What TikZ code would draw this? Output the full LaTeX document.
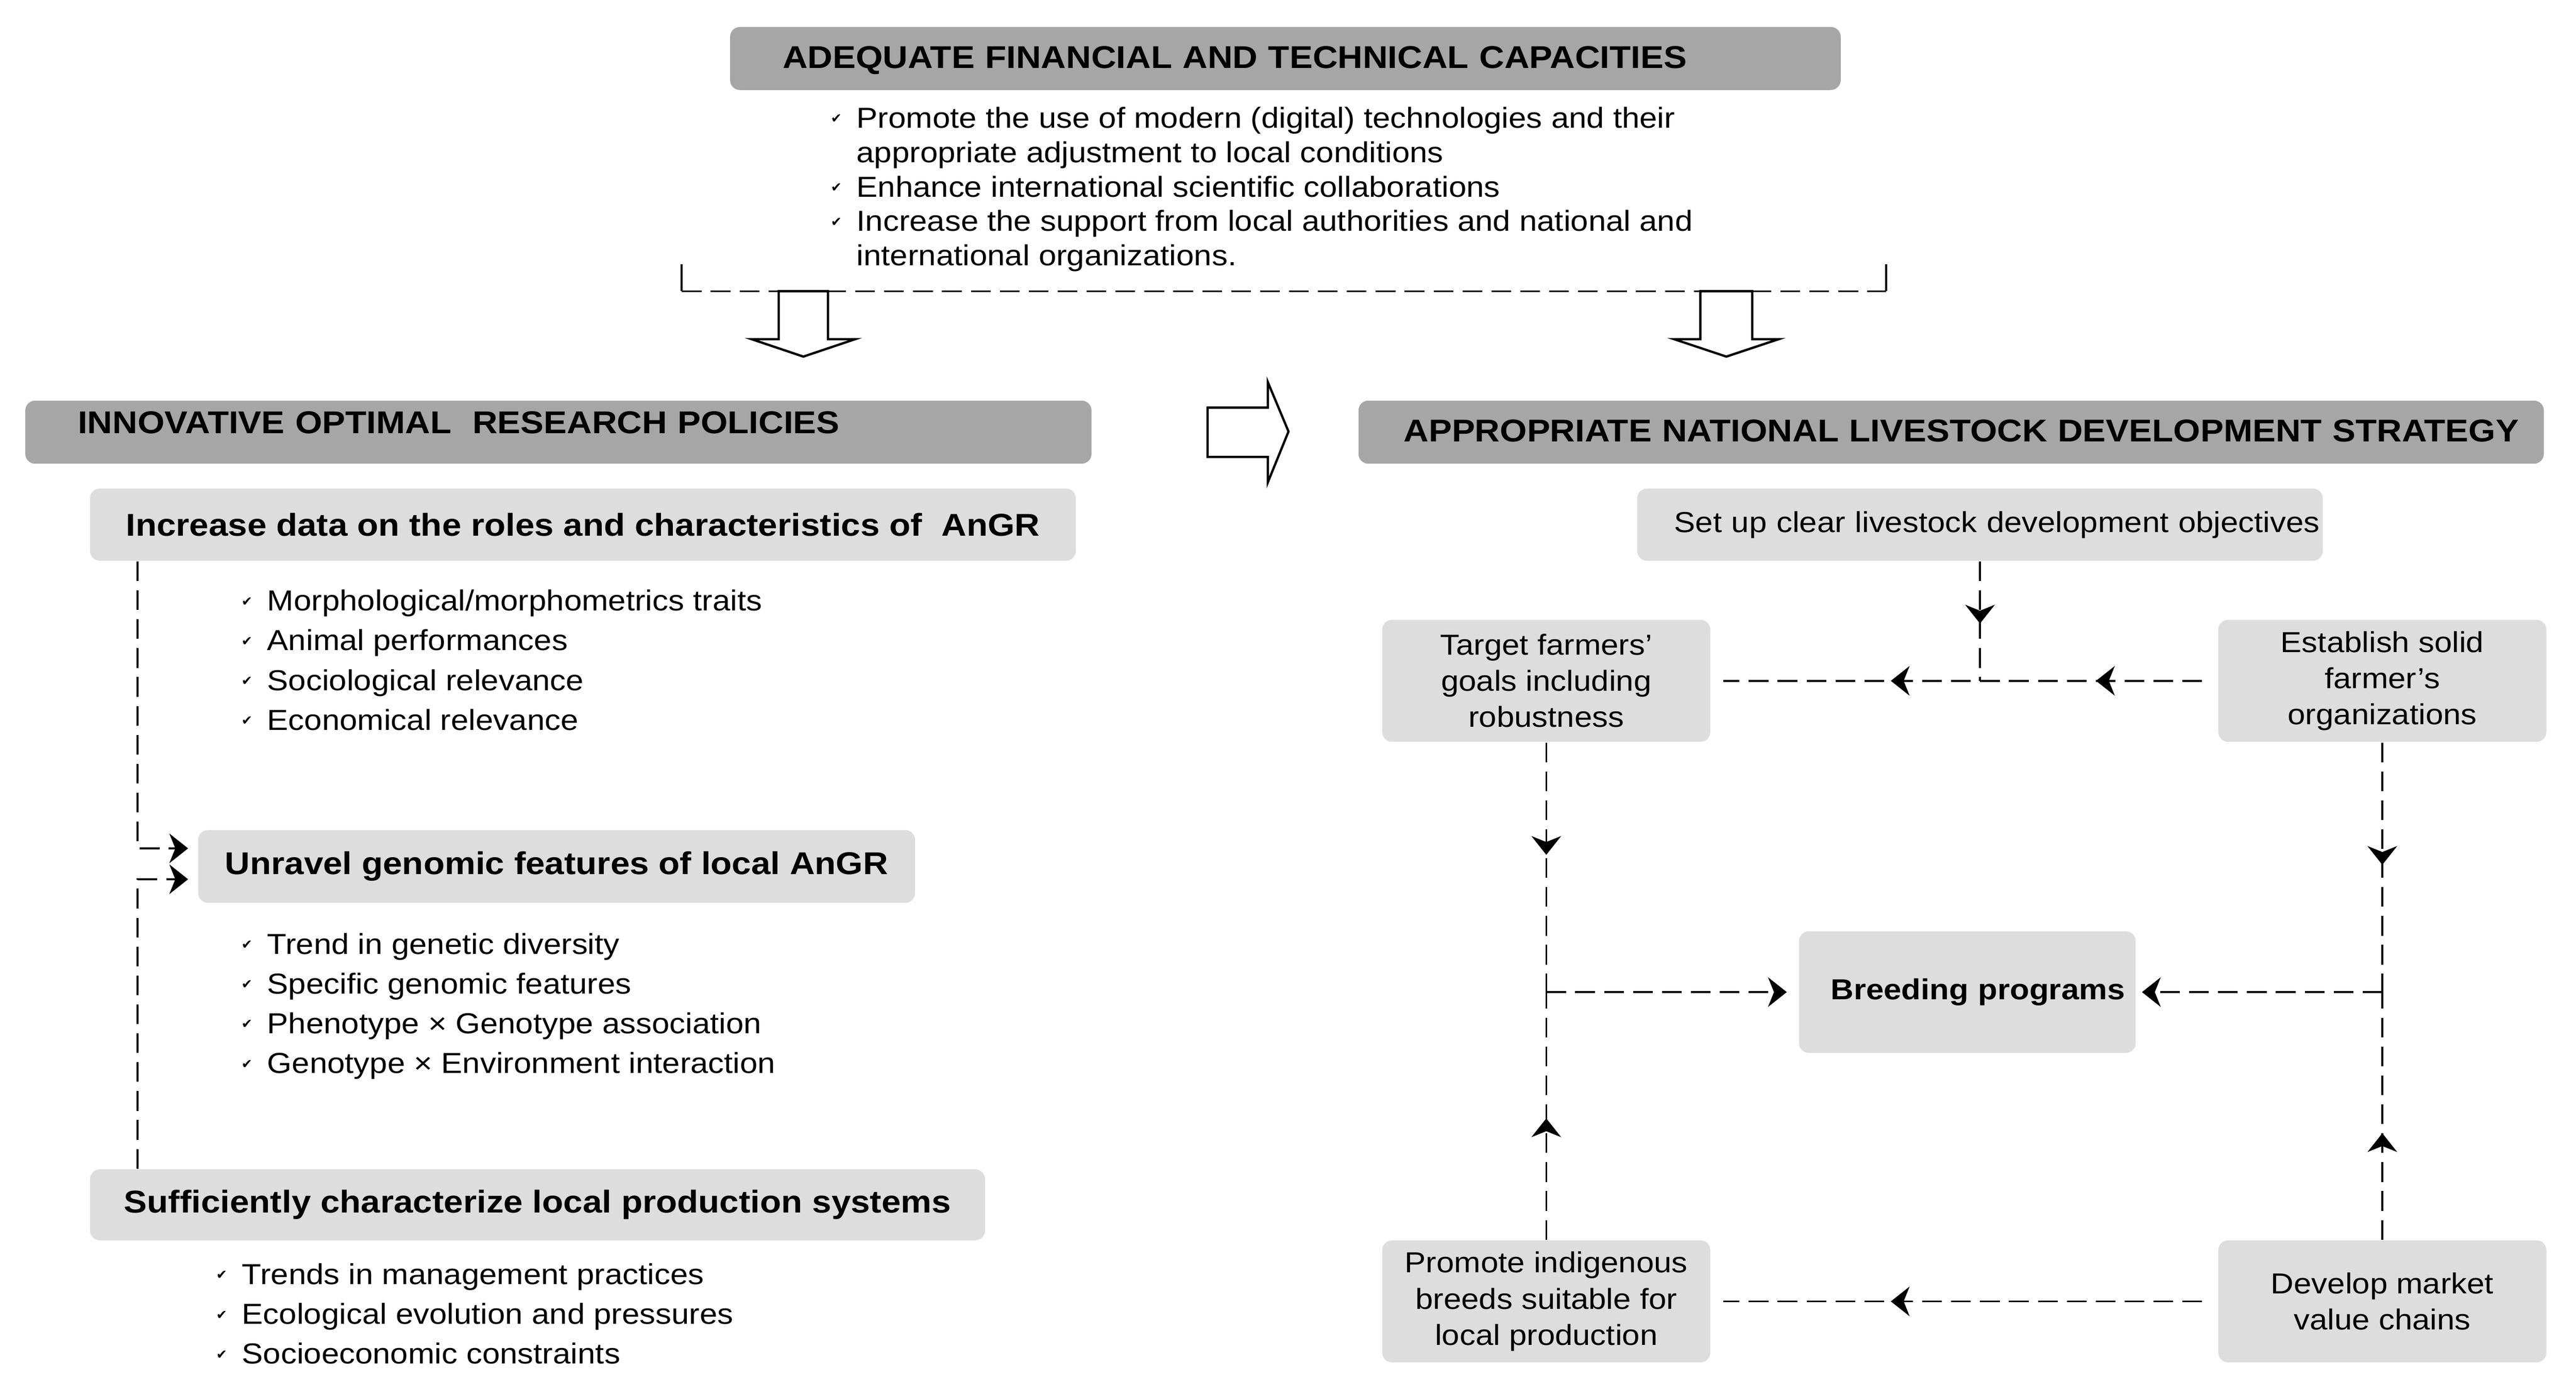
\documentclass[tikz,border=0pt]{standalone}
\usepackage{fontspec}
\setmainfont{Liberation Sans}[FakeStretch=1.1]
\newfontfamily\chkfont{DejaVu Sans}
\usepackage{xcolor}
\usetikzlibrary{positioning, arrows.meta, decorations.markings}
\definecolor{capgray}{RGB}{166,166,166}
\definecolor{boxgray}{RGB}{221,221,221}
\newcommand{\chk}{\llap{\raisebox{1.5pt}{\chkfont\fontsize{4}{4}\selectfont ✔}\hspace{4.5pt}}}
\tikzstyle{capbox} = [rectangle, rounded corners=3pt, fill=capgray, minimum height=19.2pt, inner xsep=16pt, text depth=0.8pt, align=left, font=\fontsize{9.6}{11}\selectfont\bfseries]
\tikzstyle{aim} = [rectangle, rounded corners=3pt, fill=boxgray, minimum height=22pt, align=center, font=\fontsize{9.6}{11}\selectfont\bfseries]
\tikzstyle{action} = [rectangle, rounded corners=3pt, fill=boxgray, minimum width=99.85pt, minimum height=37.15pt, align=center, font=\fontsize{8.8}{11}\selectfont]
\tikzstyle{checks} = [anchor=north west, inner sep=0pt, align=left]
\tikzstyle{link} = [line width=0.55pt, dash pattern=on 6pt off 2.8pt, >={Stealth[length=5.7pt,width=9pt,inset=1.8pt]}]
\tikzstyle{hollow} = [line width=0.7pt, draw=black, fill=white, line join=miter]
\tikzset{midarrow/.style={postaction={decorate, decoration={markings, mark=at position #1 with {\arrow{>}}}}}}

\begin{document}
\begin{tikzpicture}[x=0.5pt, y=-0.5pt]
  \useasboundingbox (0,0) rectangle (1568,851.6);

  % top block
  \node (means) [capbox, anchor=west, text width=306pt] at (444,35.6) {ADEQUATE FINANCIAL AND TECHNICAL CAPACITIES};
  \node (meanslist) [checks, font=\fontsize{8.8}{10.5}\selectfont] at (521,62.7) {\chk\strut Promote the use of modern (digital) technologies and their\\appropriate adjustment to local conditions\\\chk Enhance international scientific collaborations\\\chk Increase the support from local authorities and national and\\international organizations.};

  \coordinate (bl) at (415,160.8);
  \coordinate (br) at (1148,160.8);
  \draw [line width=0.6pt] (bl) -- ++(0,16.5) coordinate (blb);
  \draw [line width=0.6pt] (br) -- ++(0,16.5) coordinate (brb);
  \draw [link] (blb) -- (brb);
  \draw [hollow] (474,177.3) -- (474,206.5) -- (457.5,206.5) -- (489,217.1) -- (520.5,206.5) -- (504,206.5) -- (504,177.3) -- cycle;
  \draw [hollow] (1035,177.3) -- (1035,206.5) -- (1019,206.5) -- (1050.8,217.1) -- (1082.6,206.5) -- (1066.6,206.5) -- (1066.6,177.3) -- cycle;
  \draw [hollow] (735,248.2) -- (771.7,248.2) -- (771.7,232.6) -- (784.3,262.7) -- (771.7,293.7) -- (771.7,278.2) -- (735,278.2) -- cycle;

  % research policies
  \node (research) [capbox, anchor=west, text width=292.5pt, text depth=5.8pt] at (15,263.1) {INNOVATIVE OPTIMAL\ \ RESEARCH POLICIES};
  \node (databox) [aim, minimum width=300pt] at (354.8,319.4) {Increase data on the roles and characteristics of\ \ AnGR};
  \node (datalist) [checks, font=\fontsize{8.8}{12.1}\selectfont] at (162.3,354.5) {\chk\strut Morphological/morphometrics traits\\\chk Animal performances\\\chk Sociological relevance\\\chk Economical relevance};
  \node (genombox) [aim, minimum width=218.2pt, minimum height=22.15pt] at (338.8,527.5) {Unravel genomic features of local AnGR};
  \node (genomlist) [checks, font=\fontsize{8.8}{12.1}\selectfont] at (162.3,563.5) {\chk\strut Trend in genetic diversity\\\chk Specific genomic features\\\chk Phenotype × Genotype association\\\chk Genotype × Environment interaction};
  \node (prodbox) [aim, minimum width=272.4pt, minimum height=21.6pt] at (327.2,733.5) {Sufficiently characterize local production systems};
  \node (prodlist) [checks, font=\fontsize{8.8}{12.1}\selectfont] at (146.9,764.6) {\chk\strut Trends in management practices\\\chk Ecological evolution and pressures\\\chk Socioeconomic constraints};

  \coordinate (spine) at ([xshift=14.7pt]databox.south west);
  \draw [link, ->, shorten >=2.85pt] (spine) |- ([yshift=5.5pt]genombox.west);
  \draw [link, ->, shorten >=2.85pt] (spine |- prodbox.north) |- ([yshift=-3.9pt]genombox.west);

  % livestock strategy
  \node (strategy) [capbox, anchor=west, inner xsep=13.75pt, text width=333.25pt] at (826.5,263.1) {\mbox{APPROPRIATE NATIONAL LIVESTOCK DEVELOPMENT STRATEGY}};
  \node (setupbox) [action, align=left, inner xsep=11.25pt, text width=186.15pt, minimum height=22pt] at (1205.2,319.4) {\mbox{Set up clear livestock development objectives}};
  \node (targetbox) [action] at (941.2,414.5) {Target farmers’\\goals including\\robustness};
  \node (establishbox) [action, right=154.2pt of targetbox] {Establish solid\\farmer’s\\organizations};
  \node (breedbox) [action, font=\fontsize{8.8}{11}\selectfont\bfseries, align=left, inner xsep=9.7pt, text width=83.1pt, minimum height=37pt] at (1197.5,604) {\mbox{Breeding programs}};
  \node (promotebox) [action, below=151.35pt of targetbox] {Promote indigenous\\breeds suitable for\\local production};
  \node (developbox) [action, below=151.35pt of establishbox] {Develop market\\value chains};

  \coordinate (topjoin) at (setupbox.south |- targetbox.east);
  \coordinate (leftjoin) at (targetbox.south |- breedbox.west);
  \coordinate (rightjoin) at (establishbox.south |- breedbox.east);

  \draw [link, midarrow=0.52] (setupbox) -- (topjoin);
  \draw [link, midarrow=0.24, midarrow=0.645, shorten <=4.7pt, shorten >=3.8pt] (establishbox) -- (targetbox);
  \draw [link, midarrow=0.45] (targetbox) -- (leftjoin);
  \draw [link, midarrow=0.49] (promotebox) -- (leftjoin);
  \draw [link, ->, shorten >=3.5pt] (leftjoin) -- (breedbox);
  \draw [link, midarrow=0.49] (establishbox) -- (rightjoin);
  \draw [link, midarrow=0.43] (developbox) -- (rightjoin);
  \draw [link, ->, shorten >=1.7pt] (rightjoin) -- (breedbox);
  \draw [link, midarrow=0.645, shorten <=4.7pt, shorten >=3.8pt] (developbox) -- (promotebox);
\end{tikzpicture}
\end{document}
